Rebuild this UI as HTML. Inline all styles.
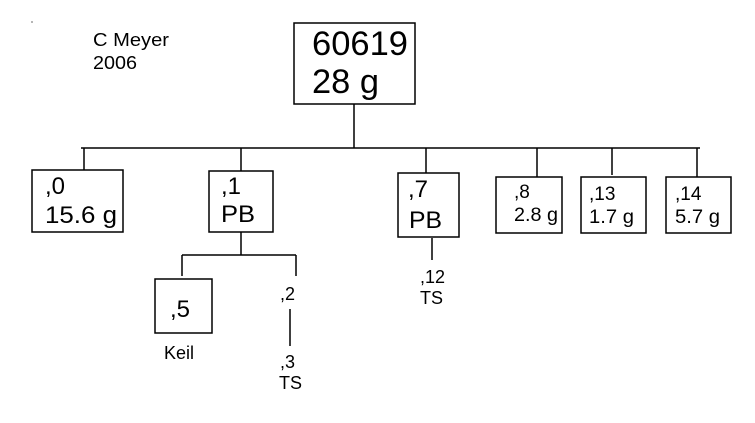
<!DOCTYPE html>
<html><head><style>
body{margin:0;background:#fff;}
svg text{font-family:"Liberation Sans",Arial,sans-serif;fill:#000;}
</style></head><body>
<svg width="755" height="418" xmlns="http://www.w3.org/2000/svg">
<rect width="755" height="418" fill="#fff"/>
<g stroke="#000" stroke-width="1.5" fill="none">
<rect x="294" y="23" width="121" height="81"/>
<line x1="354" y1="104" x2="354" y2="148"/>
<line x1="81" y1="148" x2="700" y2="148"/>
<line x1="84" y1="148" x2="84" y2="170"/>
<line x1="241" y1="148" x2="241" y2="171"/>
<line x1="426" y1="148" x2="426" y2="173"/>
<line x1="537" y1="148" x2="537" y2="177"/>
<line x1="612" y1="148" x2="612" y2="175"/>
<line x1="697" y1="148" x2="697" y2="177"/>
<rect x="32" y="170" width="91" height="62"/>
<rect x="209" y="171" width="64" height="61"/>
<rect x="398" y="173" width="61" height="64"/>
<rect x="496" y="177" width="66" height="56"/>
<rect x="581" y="177" width="65" height="56"/>
<rect x="666" y="177" width="65" height="56"/>
<line x1="432" y1="238" x2="432" y2="260"/>
<line x1="241" y1="232" x2="241" y2="255"/>
<line x1="182" y1="255" x2="296" y2="255"/>
<line x1="182" y1="255" x2="182" y2="276"/>
<line x1="296" y1="255" x2="296" y2="276"/>
<rect x="155" y="279" width="57" height="54"/>
<line x1="290" y1="309" x2="290" y2="346"/>
</g>
<circle cx="32" cy="22" r="0.6" fill="#000"/>
<text x="93" y="46" font-size="18" textLength="76" lengthAdjust="spacingAndGlyphs">C Meyer</text>
<text x="93" y="69" font-size="18" textLength="44" lengthAdjust="spacingAndGlyphs">2006</text>
<text x="312" y="55" font-size="34" textLength="96" lengthAdjust="spacingAndGlyphs">60619</text>
<text x="312" y="93" font-size="34" textLength="67" lengthAdjust="spacingAndGlyphs">28 g</text>
<text x="45" y="194" font-size="24">,0</text>
<text x="45" y="223" font-size="24" textLength="72" lengthAdjust="spacingAndGlyphs">15.6 g</text>
<text x="221" y="194" font-size="24">,1</text>
<text x="221" y="222" font-size="24" textLength="34" lengthAdjust="spacingAndGlyphs">PB</text>
<text x="408" y="197" font-size="24">,7</text>
<text x="409" y="228" font-size="24" textLength="33" lengthAdjust="spacingAndGlyphs">PB</text>
<text x="514" y="198" font-size="19">,8</text>
<text x="514" y="221" font-size="19" textLength="44" lengthAdjust="spacingAndGlyphs">2.8 g</text>
<text x="589" y="200" font-size="19">,13</text>
<text x="589" y="223" font-size="19" textLength="45" lengthAdjust="spacingAndGlyphs">1.7 g</text>
<text x="675" y="200" font-size="19">,14</text>
<text x="675" y="223" font-size="19" textLength="45" lengthAdjust="spacingAndGlyphs">5.7 g</text>
<text x="420" y="283" font-size="18">,12</text>
<text x="420" y="304" font-size="18">TS</text>
<text x="170" y="317" font-size="24">,5</text>
<text x="164" y="359" font-size="18">Keil</text>
<text x="280" y="300" font-size="18">,2</text>
<text x="280" y="368" font-size="18">,3</text>
<text x="279" y="389" font-size="18">TS</text>
</svg>
</body></html>
